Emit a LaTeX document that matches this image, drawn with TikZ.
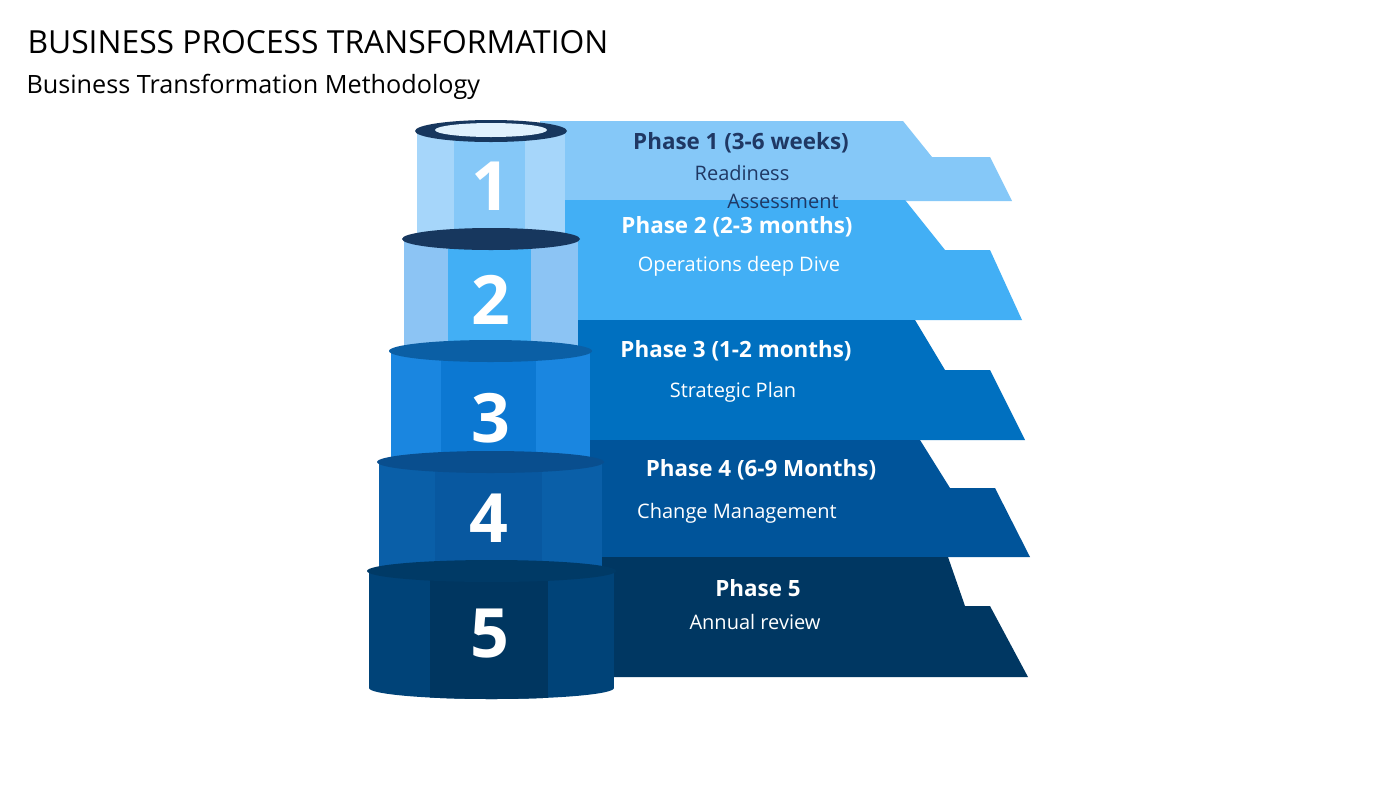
\documentclass[tikz,border=0pt]{standalone}
\usepackage{fontspec}
\setmainfont{Open Sans}
\definecolor{bA}{HTML}{85C8F8}
\definecolor{bB}{HTML}{42AFF5}
\definecolor{bC}{HTML}{0070C0}
\definecolor{bD}{HTML}{00549A}
\definecolor{bE}{HTML}{003762}
\definecolor{navy}{HTML}{1F3864}
\definecolor{rimA}{HTML}{17375E}
\tikzset{
 band/.style={fill=#1,draw=none},
 ttl/.style={font=\bfseries\fontsize{22.4}{24}\selectfont,text=white},
 sub/.style={font=\fontsize{20}{22}\selectfont,text=white},
 num/.style={font=\bfseries\fontsize{68}{70}\selectfont,text=white},
}
\begin{document}
\begin{tikzpicture}[x=1pt,y=-1pt]
\useasboundingbox (0,0) rectangle (1400,788);
\fill[white] (0,0) rectangle (1400,788);
\node[anchor=west,font=\fontsize{31.8}{34}\selectfont] (title) at (24,42) {BUSINESS PROCESS TRANSFORMATION};
\node[anchor=west,font=\fontsize{25.2}{28}\selectfont] (subtitle) at (23,87) {Business Transformation Methodology};
% bands
\fill[band=bA] (540,121) -- (903,121) -- (932,157) -- (990,157) -- (1012,201) -- (540,201) -- cycle;
\fill[band=bB] (540,200) -- (905,200) -- (945,250) -- (990,250) -- (1022,320) -- (540,320) -- cycle;
\fill[band=bC] (540,320) -- (915,320) -- (945,370) -- (990,370) -- (1025,440) -- (540,440) -- cycle;
\fill[band=bD] (540,440) -- (920,440) -- (950,488) -- (995,488) -- (1030,557) -- (540,557) -- cycle;
\fill[band=bE] (540,557) -- (948,557) -- (965,606) -- (990,606) -- (1028,677) -- (540,677) -- cycle;
% cylinders: xl, xr, top, bottom, side color, middle color, rim color
\foreach \xl/\xr/\t/\b/\csd/\cmid/\crim [count=\i] in {
 417/565/131/250/A6D6FA/85C8F8/17375E,
 404/578/239/362/8CC4F4/42AFF5/17375E,
 391/590/351/472/1A86E0/0C78D2/0B5FA5,
 379/602/462/584/0A5FA8/0858A0/094E8E,
 369/614/571/688/004378/003660/003A66}{
 \pgfmathsetmacro\cx{(\xl+\xr)/2}
 \pgfmathsetmacro\rx{(\xr-\xl)/2}
 \definecolor{colside}{HTML}{\csd}\definecolor{colmid}{HTML}{\cmid}\definecolor{colrim}{HTML}{\crim}
 \begin{scope}
 \path[clip] (\xl,\t) -- (\xl,\b) arc[start angle=180,end angle=0,x radius=\rx,y radius=11] -- (\xr,\t) -- cycle;
 \fill[colside] (\xl,\t-20) rectangle (\xr,\b+20);
 \fill[colmid] (\xl+0.5*\rx,\t-20) rectangle (\xr-0.54*\rx,\b+20);
 \end{scope}
 \fill[colrim] (\cx,\t) ellipse[x radius=\rx+2,y radius=11];
}
\fill[white!75!bA] (491,130) ellipse[x radius=56,y radius=7];
\node[num] (n1) at (491,186) {1};
\node[num] (n2) at (491,300) {2};
\node[num] (n3) at (491,418) {3};
\node[num] (n4) at (489,518) {4};
\node[num] (n5) at (490,634) {5};
% texts
\node[ttl,text=navy] (p1) at (741,143) {Phase 1 (3-6 weeks)};
\node[sub,text=navy] (s1a) at (742,173) {Readiness};
\node[sub,text=navy] (s1b) at (783,201) {Assessment};
\node[ttl] (p2) at (737,227) {Phase 2 (2-3 months)};
\node[sub] (s2) at (739,266) {Operations deep Dive};
\node[ttl] (p3) at (736,351) {Phase 3 (1-2 months)};
\node[sub] (s3) at (733,392) {Strategic Plan};
\node[ttl] (p4) at (761,470) {Phase 4 (6-9 Months)};
\node[sub] (s4) at (737,513) {Change Management};
\node[ttl] (p5) at (758,588) {Phase 5};
\node[sub] (s5) at (755,622) {Annual review};
\end{tikzpicture}
\end{document}
